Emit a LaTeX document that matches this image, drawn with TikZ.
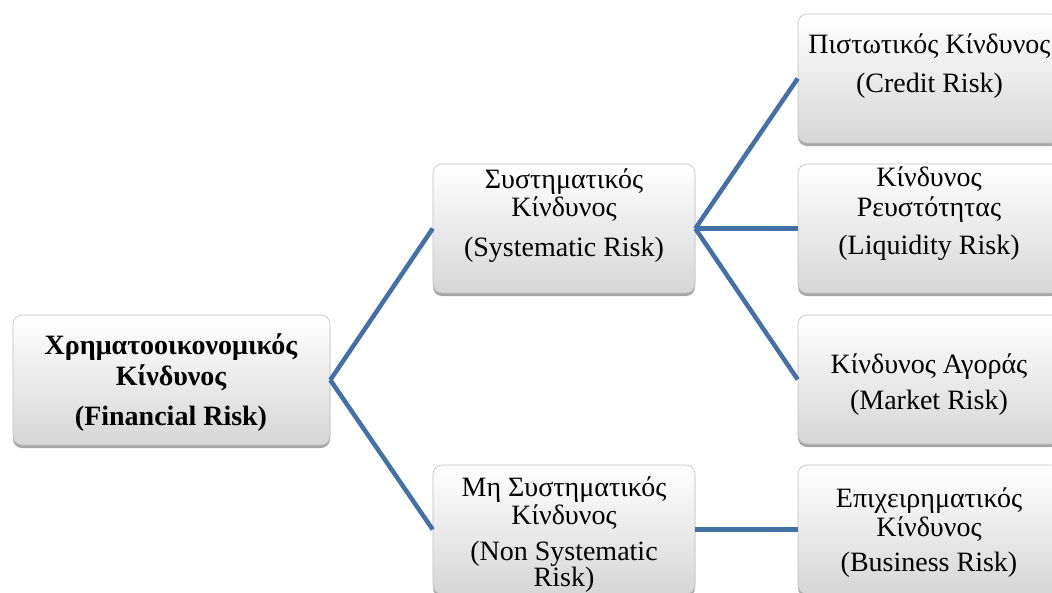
\documentclass[tikz,border=0pt]{standalone}
\usepackage{fontspec}
\setmainfont{Liberation Serif}
\usetikzlibrary{shadows}
\definecolor{linkblue}{HTML}{4470A8}
\begin{document}
\begin{tikzpicture}[x=1pt,y=-1pt,
  box/.style={draw=gray!50, line width=0.6pt, rounded corners=9pt,
    top color=white, bottom color=gray!32,
    drop shadow={shadow xshift=0pt, shadow yshift=-3pt, opacity=0.35, fill=black},
    minimum width=262pt, minimum height=129pt, inner sep=0pt},
  link/.style={draw=linkblue, line width=4.5pt},
  txt/.style={anchor=base, inner sep=0pt, font=\fontsize{28}{26.5}\selectfont}]
\useasboundingbox (0,0) rectangle (1052,592);
% boxes
\node[box, minimum width=317pt, minimum height=130pt] (root) at (171.5,380) {};
\node[box] (sys) at (564,228.5) {};
\node[box] (nsys) at (564,529.5) {};
\node[box] (credit) at (929,78.5) {};
\node[box] (liq) at (929,228.5) {};
\node[box] (market) at (929,379.5) {};
\node[box] (bus) at (929,529.5) {};
% connectors
\draw[link] (root.east) -- (sys.west);
\draw[link] (root.east) -- (nsys.west);
\draw[link] (sys.east) -- (credit.west);
\draw[link] (sys.east) -- (liq.west);
\draw[link] (sys.east) -- (market.west);
\draw[link] (nsys.east) -- (bus.west);
% texts
\node[txt, font=\fontsize{28}{26.5}\selectfont\bfseries] (roottxt) at (171,425)
  {\begin{tabular}[b]{@{}c@{}}Χρηματοοικονομικός\\[1.5pt]Κίνδυνος\\[12.5pt](Financial Risk)\end{tabular}};
\node[txt] (systxt) at (564,256)
  {\begin{tabular}[b]{@{}c@{}}Συστηματικός\\Κίνδυνος\\[12.5pt](Systematic Risk)\end{tabular}};
\node[txt] (nsystxt) at (564,586)
  {\begin{tabular}[b]{@{}c@{}}Μη Συστηματικός\\[0.5pt]Κίνδυνος\\[8.5pt](Non Systematic\\[-1.5pt]Risk)\end{tabular}};
\node[txt] (credittxt) at (929.5,92)
  {\begin{tabular}[b]{@{}c@{}}Πιστωτικός Κίνδυνος\\[11.5pt](Credit Risk)\end{tabular}};
\node[txt] (liqtxt) at (929,254)
  {\begin{tabular}[b]{@{}c@{}}Κίνδυνος\\[1.5pt]Ρευστότητας\\[10.5pt](Liquidity Risk)\end{tabular}};
\node[txt] (markettxt) at (929,409)
  {\begin{tabular}[b]{@{}c@{}}Κίνδυνος Αγοράς\\[8.5pt](Market Risk)\end{tabular}};
\node[txt] (bustxt) at (929,571)
  {\begin{tabular}[b]{@{}c@{}}Επιχειρηματικός\\[0.5pt]Κίνδυνος\\[7.5pt](Business Risk)\end{tabular}};
\end{tikzpicture}
\end{document}
